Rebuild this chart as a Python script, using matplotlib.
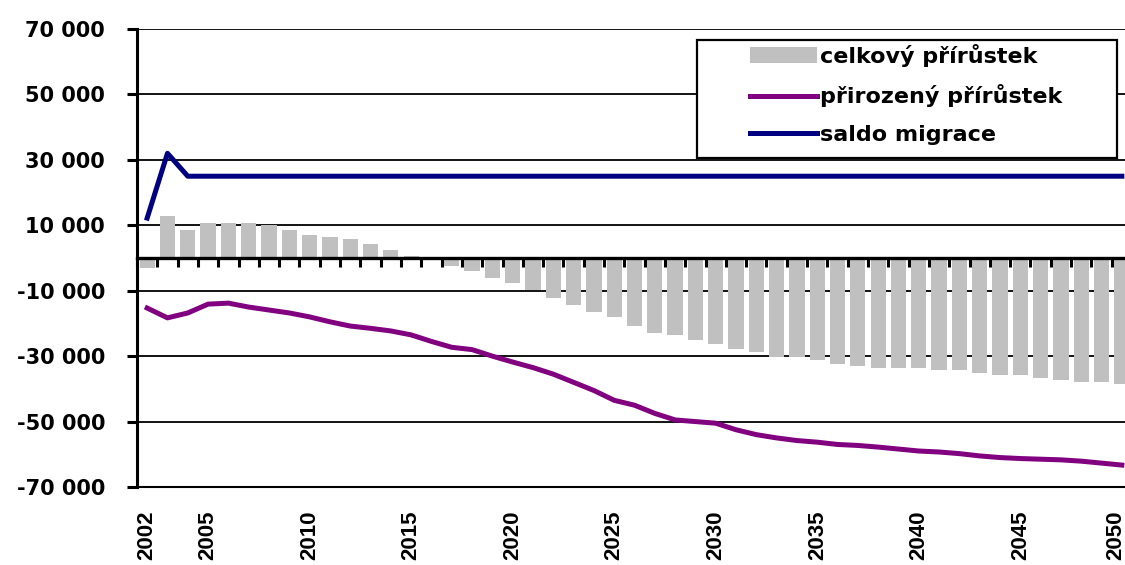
import numpy as np
import matplotlib
matplotlib.use("Agg")
import matplotlib.pyplot as plt
from matplotlib.patches import Rectangle
from matplotlib.transforms import ScaledTranslation

# Population growth, 2002-2050 (projection)
years = list(range(2002, 2051))
year_labels = ["2002", "2005", "2010", "2015", "2020", "2025",
               "2030", "2035", "2040", "2045", "2050"]

# celkový přírůstek (bars)
celkovy = [
    -3000, 12800, 8500, 10700, 10700, 10700, 10100, 8500, 7000, 6400,
    5800, 4300, 2300, 500, -500, -2500, -3900, -6200, -7700, -9900,
    -12200, -14400, -16500, -18000, -20800, -22900, -23500, -25100, -26300, -27800,
    -28700, -30300, -30300, -31300, -32300, -33000, -33600, -33600, -33600, -34300,
    -34300, -35200, -35800, -35800, -36700, -37300, -37900, -37900, -38500,
]

# přirozený přírůstek (purple line)
prirozeny = [
    -15300, -18300, -16800, -14100, -13800, -15000, -15900, -16800, -18000, -19500,
    -20800, -21500, -22300, -23500, -25500, -27300, -28000, -30000, -31800, -33500,
    -35500, -38000, -40500, -43500, -45000, -47500, -49500, -50000, -50500, -52500,
    -54000, -55000, -55800, -56300, -57000, -57300, -57800, -58400, -59000, -59300,
    -59800, -60500, -61000, -61300, -61500, -61700, -62100, -62700, -63300,
]

# saldo migrace (navy line)
saldo = [
    12200, 32000, 25000, 25000, 25000, 25000, 25000, 25000, 25000, 25000,
    25000, 25000, 25000, 25000, 25000, 25000, 25000, 25000, 25000, 25000,
    25000, 25000, 25000, 25000, 25000, 25000, 25000, 25000, 25000, 25000,
    25000, 25000, 25000, 25000, 25000, 25000, 25000, 25000, 25000, 25000,
    25000, 25000, 25000, 25000, 25000, 25000, 25000, 25000, 25000,
]

y_ticks = [-70000, -50000, -30000, -10000, 10000, 30000, 50000, 70000]

W, H = 1125, 565
fig = plt.figure(figsize=(W / 100, H / 100), dpi=100)
ax = fig.add_axes([137 / W, 1 - 487 / H, (1132 - 137) / W, 458 / H])

x = np.arange(len(years))
bars = ax.bar(x, celkovy, width=0.75, color="#C0C0C0", zorder=2)
line_p, = ax.plot(x, prirozeny, color="#800080", lw=3.6, zorder=3)
line_s, = ax.plot(x, saldo, color="#000080", lw=3.6, zorder=3)

ax.set_xlim(-0.42, 48.5)
ax.set_ylim(-70000, 70000)

# y axis
ax.set_yticks(y_ticks)
ax.set_yticklabels([f"{v:,}".replace(",", " ") for v in y_ticks],
                   fontsize=15, fontweight="bold", fontfamily="DejaVu Sans")
ax.tick_params(axis="y", direction="out", length=7, width=2.2, pad=16)
ax.grid(axis="y", color="black", lw=1.3)
ax.set_axisbelow(True)

# category axis crossing at zero, ticks between categories
ax.spines["top"].set_visible(False)
ax.spines["right"].set_visible(False)
ax.spines["left"].set_linewidth(2.2)
ax.spines["bottom"].set_position(("data", 0))
ax.spines["bottom"].set_linewidth(2.4)
ax.set_xticks(np.arange(-0.5, len(years), 1))
ax.tick_params(axis="x", direction="out", length=6.5, width=2.2, labelbottom=False)

# year labels along the bottom edge
sec = ax.secondary_xaxis("bottom")
label_pos = [years.index(int(s)) for s in year_labels]
sec.set_xticks(label_pos, year_labels, rotation=90, fontsize=16,
               fontweight="bold", fontfamily="Liberation Sans")
sec.tick_params(length=0, pad=17)
sec.spines["bottom"].set_linewidth(1.5)
# keep the last year label inside the figure edge
last = sec.get_xticklabels()[-1]
last.set_transform(last.get_transform() + ScaledTranslation(-6 / 100, 0, fig.dpi_scale_trans))

# legend with white framed box
box = Rectangle((697 / W, 1 - 158 / H), 420 / W, 118 / H, transform=fig.transFigure,
                facecolor="white", edgecolor="black", lw=1.6, zorder=5)
fig.add_artist(box)
leg = fig.legend([bars, line_p, line_s],
                 ["celkový přírůstek", "přirozený přírůstek", "saldo migrace"],
                 loc="upper left", bbox_to_anchor=(750 / W, 1 - 44 / H), frameon=False,
                 borderpad=0, borderaxespad=0, handlelength=3.0,
                 handletextpad=0.15, labelspacing=0.78,
                 prop={"family": "DejaVu Sans", "weight": "bold", "size": 16})
leg.set_zorder(6)

fig.savefig("out.png", dpi=100)
